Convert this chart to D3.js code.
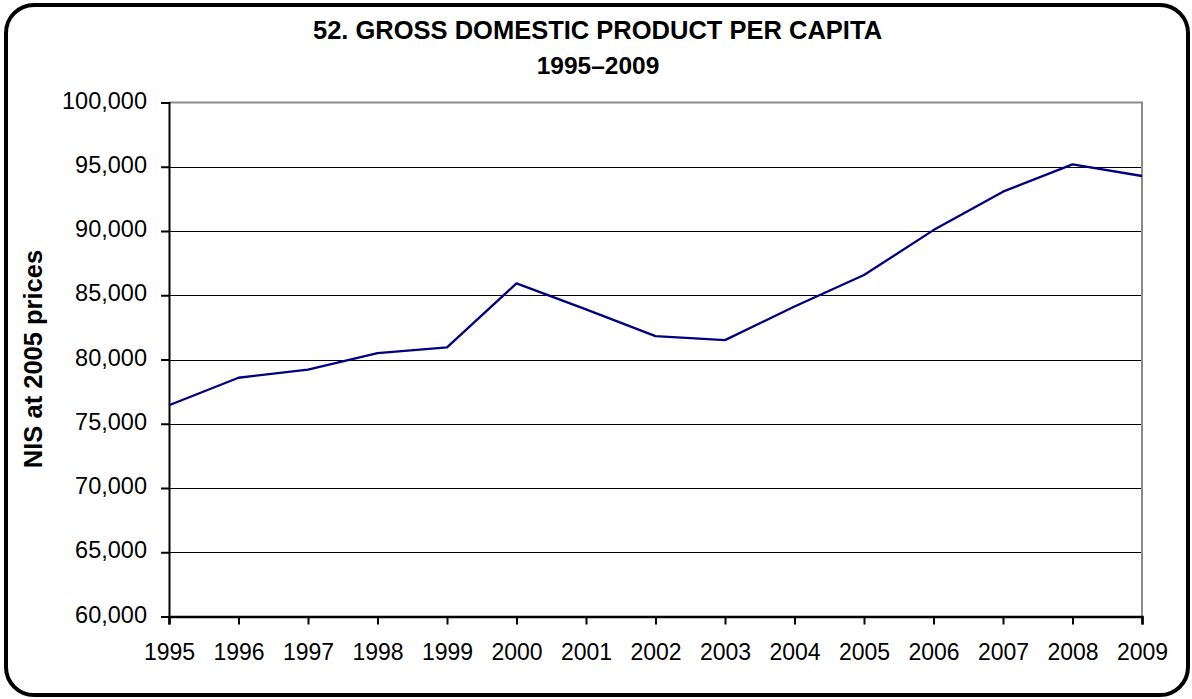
<!DOCTYPE html>
<html>
<head>
<meta charset="utf-8">
<script src="https://cdn.jsdelivr.net/npm/d3@7/dist/d3.min.js"></script>
<style>
  html, body { margin: 0; padding: 0; background: #fff; }
  svg { display: block; }
  text { font-family: "Liberation Sans", Arial, sans-serif; }
</style>
</head>
<body>
<svg id="chart" width="1192" height="699"></svg>
<script>
const titleLines = ["52. GROSS DOMESTIC PRODUCT PER CAPITA", "1995\u20132009"];
const yAxisLabel = "NIS at 2005 prices";
const years = [1995, 1996, 1997, 1998, 1999, 2000, 2001, 2002, 2003, 2004, 2005, 2006, 2007, 2008, 2009];
const gdpPerCapita = [76440, 78580, 79210, 80500, 80940, 85920, 83900, 81820, 81510, 84120, 86570, 90070, 93060, 95180, 94280];
const yTicks = [60000, 65000, 70000, 75000, 80000, 85000, 90000, 95000, 100000];

const svg = d3.select("#chart");
const m = { left: 169, right: 1142, top: 102.5, bottom: 616.5 };

// outer frame
svg.append("rect")
  .attr("x", 6).attr("y", 5).attr("width", 1182).attr("height", 690)
  .attr("rx", 28).attr("ry", 28)
  .attr("fill", "#fff").attr("stroke", "#000").attr("stroke-width", 4);

const x = d3.scalePoint().domain(years).range([m.left, m.right]);
const y = d3.scaleLinear().domain([60000, 100000]).range([m.bottom, m.top]);

// gridlines
svg.append("g").selectAll("line")
  .data(yTicks.filter(t => t > 60000 && t < 100000))
  .join("line")
  .attr("x1", m.left).attr("x2", m.right)
  .attr("y1", d => Math.round(y(d)) + 0.5).attr("y2", d => Math.round(y(d)) + 0.5)
  .attr("stroke", "#000").attr("stroke-width", 1);

// plot border top & right (gray)
svg.append("path")
  .attr("d", `M${m.left},${y(100000)}H${m.right}V${m.bottom}`)
  .attr("fill", "none").attr("stroke", "#8c8c8c").attr("stroke-width", 2);

// y axis
const yAxis = d3.axisLeft(y).tickValues(yTicks)
  .tickFormat(d3.format(",")).tickSize(8).tickPadding(14);
const gy = svg.append("g").attr("transform", `translate(${m.left},0)`).call(yAxis);
gy.select(".domain").attr("stroke", "#000").attr("stroke-width", 2);
gy.selectAll(".tick line").attr("stroke", "#000").attr("stroke-width", 2);
gy.selectAll(".tick text").attr("font-size", 23.5).attr("fill", "#000").attr("dy", "0.24em")
  .style("font-family", "'Liberation Sans', Arial, sans-serif");

// x axis
const xAxis = d3.axisBottom(x).tickSize(8).tickPadding(19).tickFormat(d3.format("d"));
const gx = svg.append("g").attr("transform", `translate(0,${m.bottom})`).call(xAxis);
gx.select(".domain").attr("stroke", "#000").attr("stroke-width", 2.5);
gx.selectAll(".tick line").attr("stroke", "#000").attr("stroke-width", 2);
gx.selectAll(".tick text").attr("font-size", 23).attr("fill", "#000")
  .style("font-family", "'Liberation Sans', Arial, sans-serif");

// line
const line = d3.line().x((d, i) => x(years[i])).y(d => y(d));
svg.append("path")
  .datum(gdpPerCapita)
  .attr("d", line)
  .attr("fill", "none").attr("stroke", "#000080").attr("stroke-width", 2.3)
  .attr("stroke-linejoin", "round");

// title
svg.append("text").attr("x", 597.5).attr("y", 38.5).attr("text-anchor", "middle")
  .attr("font-size", 25.5).attr("font-weight", "bold").text(titleLines[0]);
svg.append("text").attr("x", 598).attr("y", 74).attr("text-anchor", "middle")
  .attr("font-size", 24.5).attr("font-weight", "bold").text(titleLines[1]);

// y label
svg.append("text")
  .attr("transform", `translate(42,359) rotate(-90)`)
  .attr("text-anchor", "middle")
  .attr("font-size", 25.5).attr("font-weight", "bold").text(yAxisLabel);
</script>
</body>
</html>
